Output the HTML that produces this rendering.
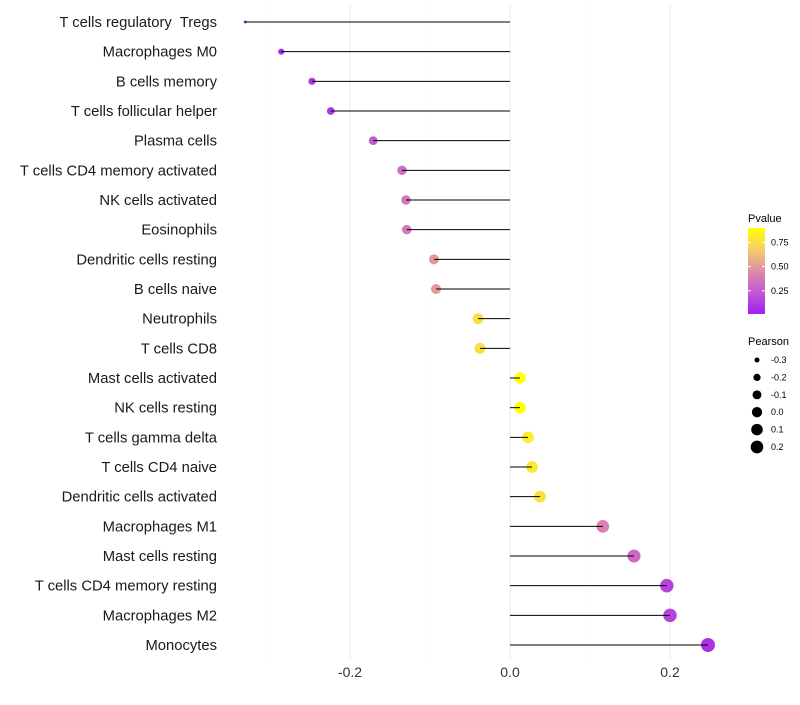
<!DOCTYPE html>
<html><head><meta charset="utf-8"><style>body{margin:0;background:#fff}svg{font-family:"Liberation Sans",sans-serif}text{white-space:pre}</style></head>
<body>
<svg id="chart" width="800" height="700"></svg>
<script>
const categories=["T cells regulatory  Tregs","Macrophages M0","B cells memory","T cells follicular helper","Plasma cells","T cells CD4 memory activated","NK cells activated","Eosinophils","Dendritic cells resting","B cells naive","Neutrophils","T cells CD8","Mast cells activated","NK cells resting","T cells gamma delta","T cells CD4 naive","Dendritic cells activated","Macrophages M1","Mast cells resting","T cells CD4 memory resting","Macrophages M2","Monocytes"];
const pearson=[-0.331,-0.286,-0.2475,-0.224,-0.171,-0.135,-0.13,-0.129,-0.095,-0.0925,-0.04,-0.0375,0.0125,0.0125,0.0225,0.0275,0.0375,0.116,0.155,0.196,0.2,0.2475];
const pvalue=[0.01,0.05,0.1,0.1,0.25,0.33,0.38,0.38,0.5,0.5,0.76,0.76,0.93,0.93,0.82,0.8,0.76,0.4,0.3,0.15,0.15,0.08];
const xTicks=[-0.2,0.0,0.2];
const xTickLabels=["-0.2","0.0","0.2"];
const legendVals=[-0.3,-0.2,-0.1,0.0,0.1,0.2];
const legendLabels=["-0.3","-0.2","-0.1","0.0","0.1","0.2"];
const cbTicks=[0.25,0.5,0.75];
const cbLabels=["0.25","0.50","0.75"];
const NS="http://www.w3.org/2000/svg";
const svg=document.getElementById('chart');
function X(v){return 510+v*800;}
function Y(i){return 22+i*(645-22)/21;}
function R(p){const t=Math.max(0,(p+0.331)/0.5785);return 1.5+5.5*Math.sqrt(t);}
function RL(p){return Math.sqrt(6.25+(p+0.3)*67.5);}
function lerp(a,b,t){return a.map((v,i)=>Math.round(v+(b[i]-v)*t));}
const stops=[[160,32,240],[196,88,212],[222,140,168],[246,206,104],[255,255,0]];
function C(p){let t=Math.min(1,Math.max(0,(p-0.01)/(0.9-0.01)))*4;let i=Math.min(3,Math.floor(t));const c=lerp(stops[i],stops[i+1],t-i);return `rgb(${c[0]},${c[1]},${c[2]})`;}
function mk(tag,attrs,name,txt){const e=document.createElementNS(NS,tag);for(const k in attrs)e.setAttribute(k,attrs[k]);


if(txt!==undefined)e.textContent=txt;svg.appendChild(e);return e;}
[-0.3,-0.1,0.1].forEach(v=>mk('line',{x1:X(v),x2:X(v),y1:5,y2:660,stroke:'#f4f4f4','stroke-width':0.6},'minor-gridline'));
xTicks.forEach((v,i)=>{mk('line',{x1:X(v),x2:X(v),y1:5,y2:660,stroke:'#ebebeb','stroke-width':1},'major-gridline');
mk('text',{x:X(v),y:677,'text-anchor':'middle','font-size':14,fill:'#333'},'x-tick-label',xTickLabels[i]);});
categories.forEach((c,i)=>{const y=Y(i);
mk('text',{x:217,y:y+5,'text-anchor':'end','font-size':14.8,fill:'#1a1a1a'},'category-label',c);
mk('circle',{cx:X(pearson[i]),cy:y,r:R(pearson[i]),fill:C(pvalue[i])},'point');
mk('line',{x1:X(0),x2:X(pearson[i]),y1:y,y2:y,stroke:'#000','stroke-width':1},'stem');});
mk('text',{x:748,y:222,'font-size':11,fill:'#000'},'color-legend-title','Pvalue');
const defs=document.createElementNS(NS,'defs');defs.innerHTML='<linearGradient id="g" x1="0" y1="1" x2="0" y2="0">'+stops.map((s,i)=>`<stop offset="${i/4}" stop-color="rgb(${s})"/>`).join('')+'</linearGradient>';svg.appendChild(defs);
mk('rect',{x:748,y:228,width:17,height:86,fill:'url(#g)'},'colorbar');
cbTicks.forEach((v,i)=>{const y=314-(v-0.01)/(0.9-0.01)*86;
mk('line',{x1:748,x2:751,y1:y,y2:y,stroke:'#fff'},'colorbar-tick');
mk('line',{x1:762,x2:765,y1:y,y2:y,stroke:'#fff'},'colorbar-tick');
mk('text',{x:771,y:y+3,'font-size':9,fill:'#000'},'colorbar-label',cbLabels[i]);});
mk('text',{x:748,y:345,'font-size':11,fill:'#000'},'size-legend-title','Pearson');
legendVals.forEach((v,i)=>{const y=360+i*17.4;
mk('circle',{cx:757,cy:y,r:RL(v),fill:'#000'},'size-legend-key');
mk('text',{x:771,y:y+3,'font-size':9,fill:'#000'},'size-legend-label',legendLabels[i]);});
</script>
</body></html>
